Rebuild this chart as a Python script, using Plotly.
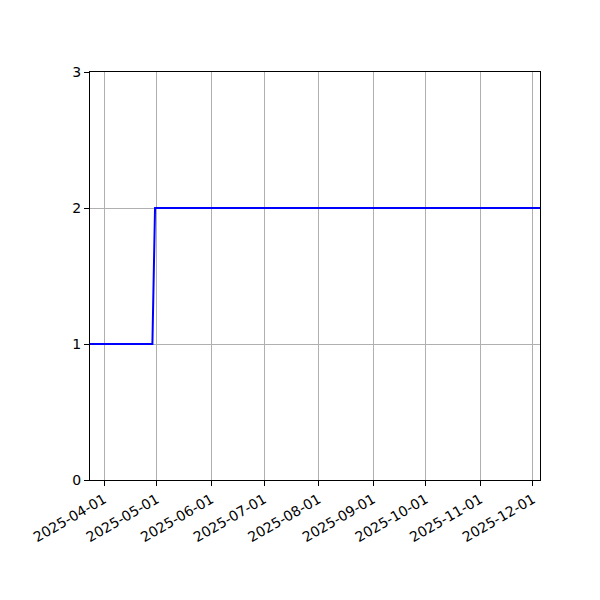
import plotly.graph_objects as go

# step series
dates = ["2025-03-24", "2025-04-28 12:00", "2025-04-30", "2025-12-05"]
values = [1, 1, 2, 2]

x_ticks = ["2025-04-01", "2025-05-01", "2025-06-01", "2025-07-01", "2025-08-01",
           "2025-09-01", "2025-10-01", "2025-11-01", "2025-12-01"]
y_ticks = [0, 1, 2, 3]

fig = go.Figure()
fig.add_trace(go.Scatter(x=dates, y=values, mode="lines",
                         line=dict(color="blue", width=2)))

axis_style = dict(showline=True, linecolor="black", linewidth=1, mirror=True,
                  ticks="outside", ticklen=5, tickcolor="black", tickwidth=1,
                  showgrid=True, gridcolor="#b0b0b0", gridwidth=1,
                  zeroline=False, tickfont=dict(family="DejaVu Sans", size=14, color="black"))

fig.update_layout(
    width=600, height=600,
    margin=dict(l=82, r=68, t=64, b=128, autoexpand=False),
    paper_bgcolor="white", plot_bgcolor="white",
    showlegend=False,
    xaxis=dict(type="date", range=["2025-03-24", "2025-12-05"],
               tickvals=x_ticks, ticktext=x_ticks, tickangle=-30, **axis_style),
    yaxis=dict(range=[0, 3], tickvals=y_ticks, **axis_style),
)

fig.write_html("out.html")
